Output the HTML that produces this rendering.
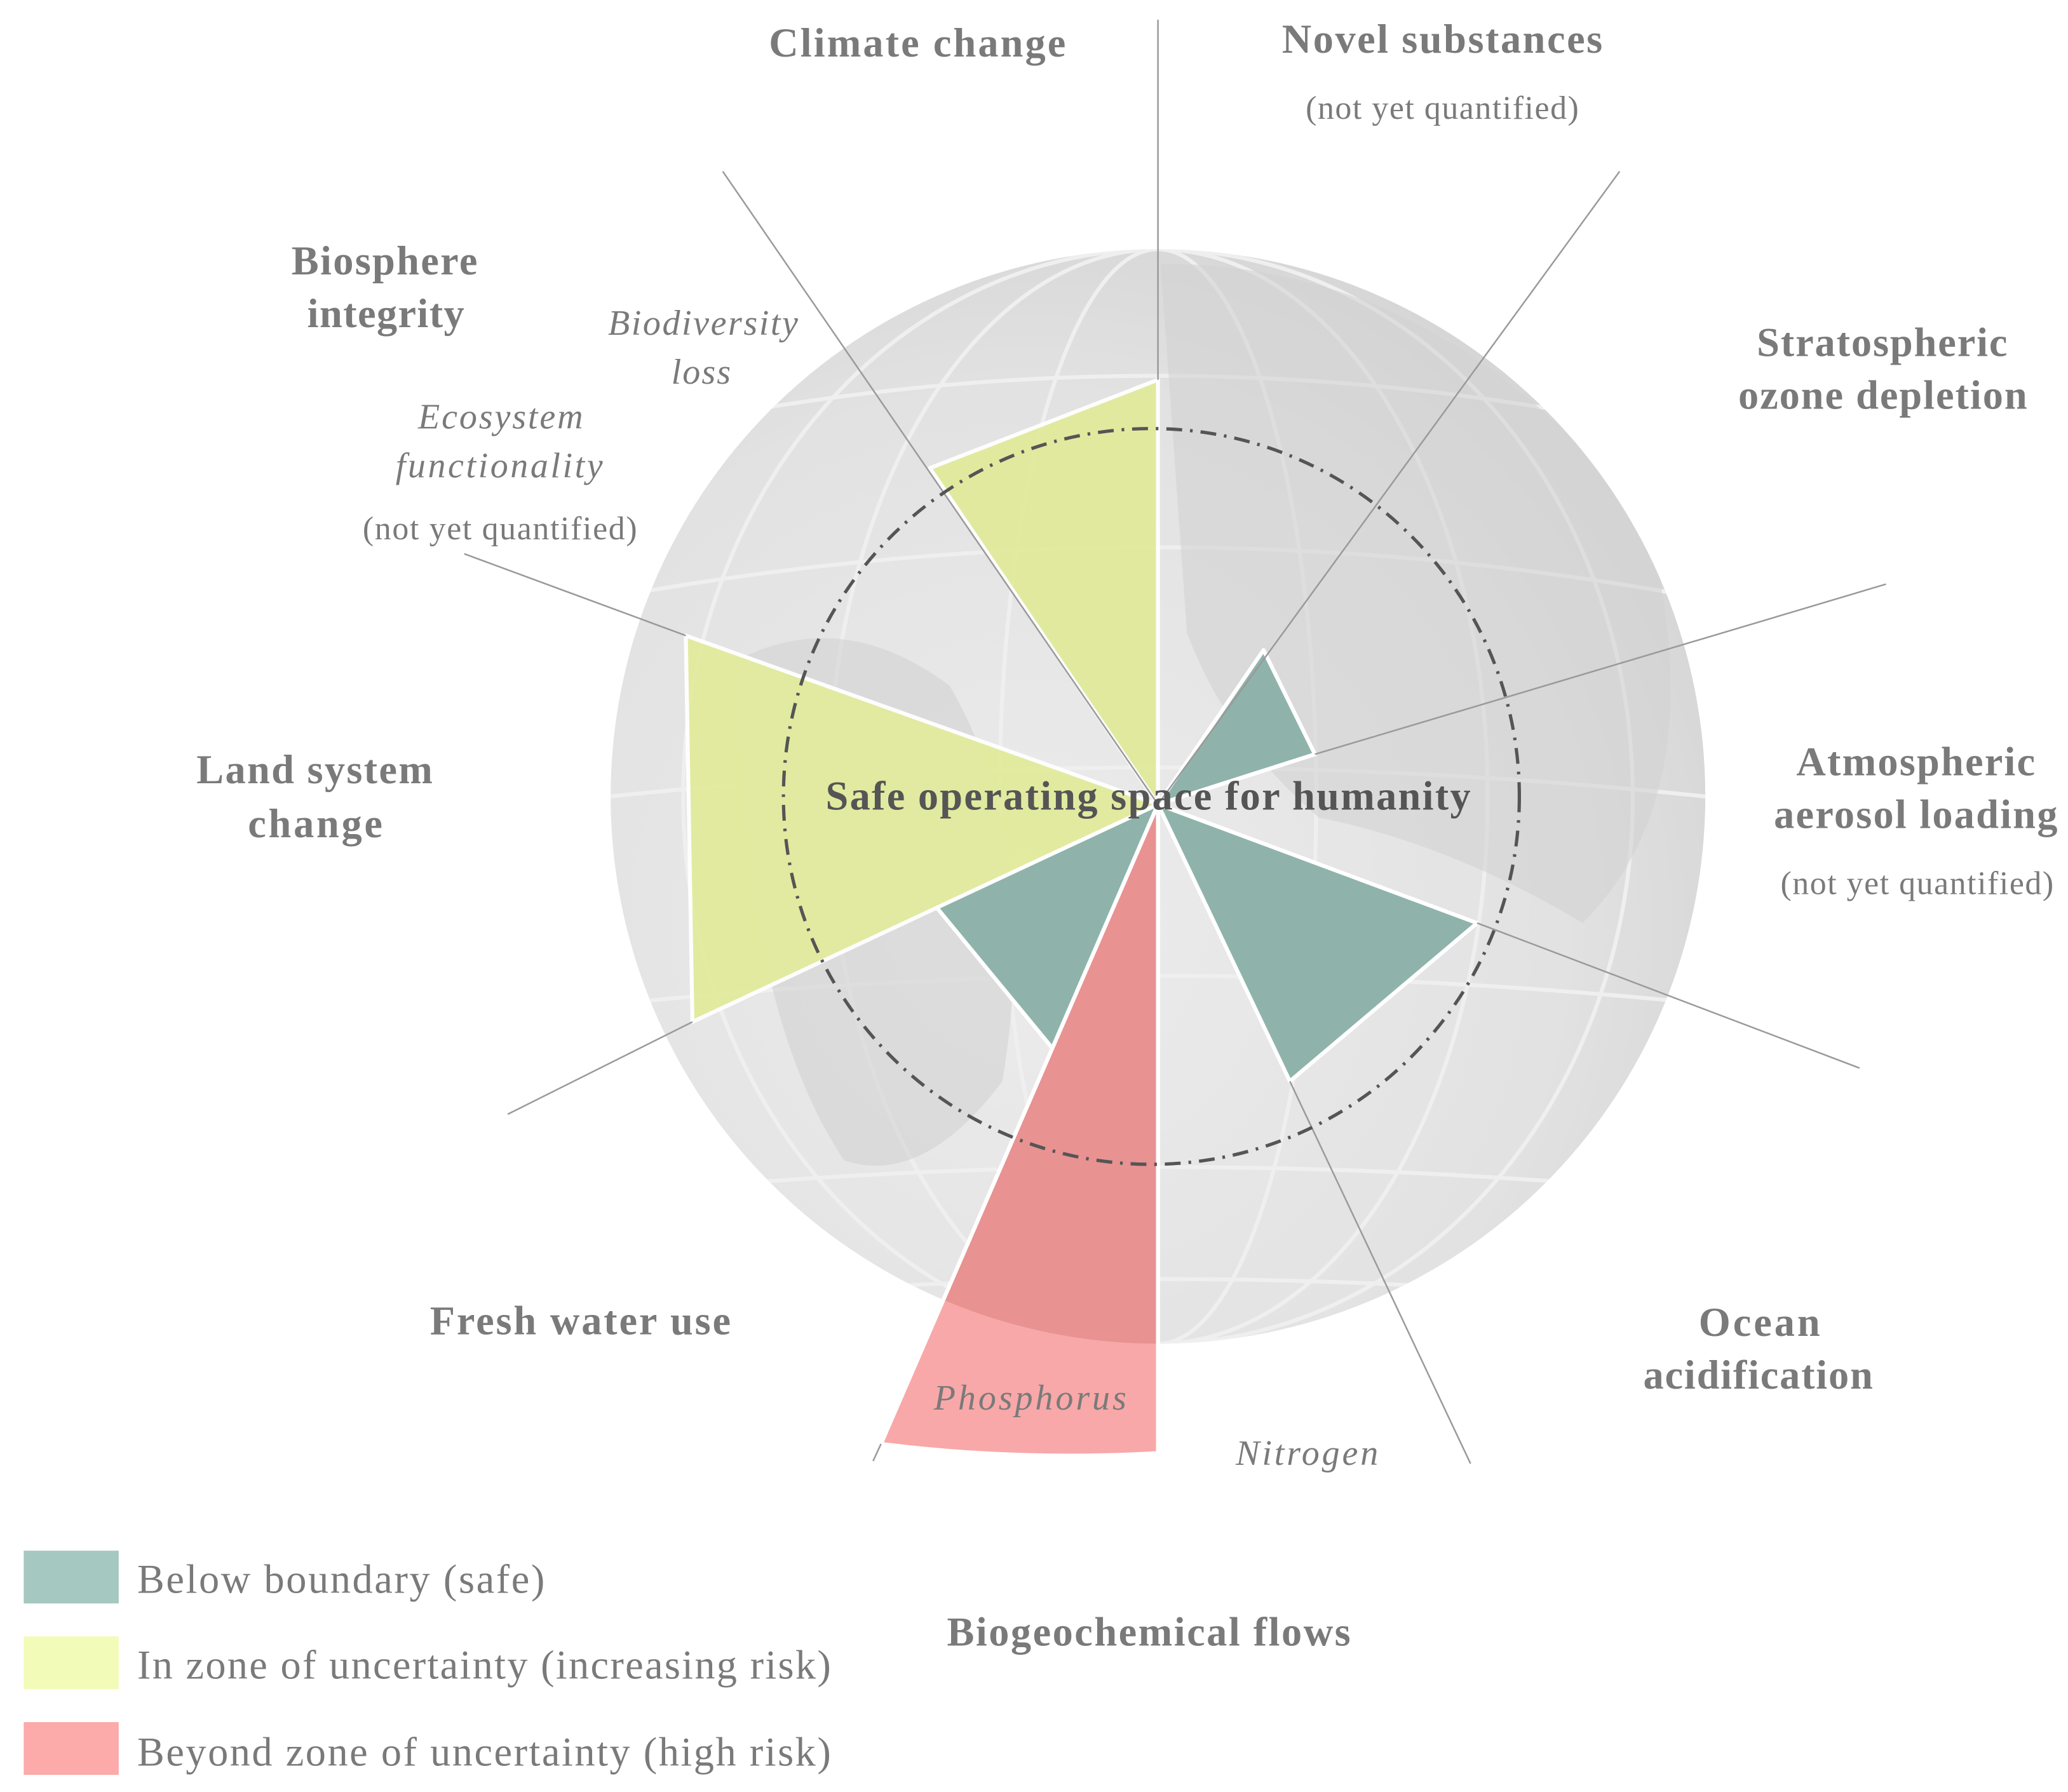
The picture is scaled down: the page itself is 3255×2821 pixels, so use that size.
<!DOCTYPE html>
<html><head><meta charset="utf-8"><style>
html,body{margin:0;padding:0;background:#fff;}
svg{display:block;}
text{font-family:"Liberation Serif",serif;fill:#7a7a7a;}
.b{font-weight:bold;font-size:31px;}
.n{font-size:25px;}
.i{font-style:italic;font-size:27px;}
.lg{font-size:31px;}
</style></head><body>
<svg width="3255" height="2821" viewBox="0 0 1568 1359" preserveAspectRatio="none" xmlns="http://www.w3.org/2000/svg">
<defs>
<radialGradient id="g" cx="0.38" cy="0.62" r="0.7">
<stop offset="0" stop-color="#ececec"/><stop offset="0.7" stop-color="#e2e2e2"/><stop offset="1" stop-color="#d4d4d4"/>
</radialGradient>
<clipPath id="gc"><circle cx="878" cy="604" r="415"/></clipPath>
</defs>
<rect width="1568" height="1359" fill="#fff"/>
<circle cx="878" cy="604" r="415" fill="url(#g)"/>
<g clip-path="url(#gc)" fill="none" stroke="#efefef" stroke-width="3">
<ellipse cx="878" cy="604" rx="120" ry="415"/>
<ellipse cx="878" cy="604" rx="250" ry="415"/>
<ellipse cx="878" cy="604" rx="360" ry="415"/>
<path d="M463,604 Q878,560 1293,604"/>
<path d="M480,450 Q878,380 1270,450"/>
<path d="M520,320 Q878,250 1230,320"/>
<path d="M480,760 Q878,720 1280,760"/>
<path d="M530,900 Q878,870 1230,900"/>
<path d="M600,980 Q878,960 1160,980"/>
</g>
<g clip-path="url(#gc)" fill="#d2d2d2" opacity="0.6">
<path d="M880,200 Q1100,200 1250,400 Q1300,600 1200,700 Q1100,640 1000,620 Q930,560 900,480 Z"/>
<path d="M560,500 Q640,460 720,520 Q790,640 760,820 Q700,900 640,880 Q560,760 560,500 Z"/>
</g>
<g stroke="#fff" stroke-width="3" stroke-linejoin="round">
<polygon points="878,610 705,355 878,288" fill="#e1ea9c" opacity="0.95"/>
<polygon points="878,610 958,493 997,572" fill="#8fb3aa"/>
<polygon points="878,610 1120,700 978,820" fill="#8fb3aa"/>
<polygon points="878,610 710,688 798,795" fill="#8fb3aa"/>
<polygon points="878,610 520,482 525,775" fill="#e2eb9d" opacity="0.95"/>
<path d="M878,610 L878,1102 Q770,1108 668,1095 Z" fill="#f8a8a8"/>
</g>
<path d="M878,610 L878,1102 Q770,1108 668,1095 Z" fill="#e89292" clip-path="url(#gc)" stroke="#fff" stroke-width="3"/>
<g stroke="#9a9a9a" stroke-width="1.2">
<line x1="878" y1="15" x2="878" y2="288"/>
<line x1="878" y1="610" x2="548" y2="130"/>
<line x1="878" y1="610" x2="1228" y2="130"/>
<line x1="997" y1="572" x2="1430" y2="443"/>
<line x1="1120" y1="700" x2="1410" y2="810"/>
<line x1="978" y1="820" x2="1115" y2="1110"/>
<line x1="525" y1="775" x2="385" y2="845"/>
<line x1="520" y1="482" x2="352" y2="420"/>
<line x1="668" y1="1095" x2="662" y2="1108"/>
</g>
<line x1="878" y1="610" x2="878" y2="1102" stroke="#fff" stroke-width="3"/>
<circle cx="873" cy="604" r="279" fill="none" stroke="#555" stroke-width="2.5" stroke-dasharray="12,6,2,6"/>
<g lengthAdjust="spacingAndGlyphs">
<text class="b" x="583" y="43" textLength="225">Climate change</text>
<text class="b" x="972" y="40" textLength="243">Novel substances</text>
<text class="n" x="990" y="90" textLength="207">(not yet quantified)</text>
<text class="b" x="1332" y="270" textLength="190">Stratospheric</text>
<text class="b" x="1318" y="310" textLength="219">ozone depletion</text>
<text class="b" x="1362" y="588" textLength="181">Atmospheric</text>
<text class="b" x="1345" y="628" textLength="215">aerosol loading</text>
<text class="n" x="1350" y="678" textLength="207">(not yet quantified)</text>
<text class="b" x="1288" y="1013" textLength="92">Ocean</text>
<text class="b" x="1246" y="1053" textLength="174">acidification</text>
<text class="i" x="937" y="1111" textLength="108">Nitrogen</text>
<text class="b" x="718" y="1248" textLength="306">Biogeochemical flows</text>
<text class="i" x="708" y="1069" textLength="146">Phosphorus</text>
<text class="b" x="326" y="1012" textLength="228">Fresh water use</text>
<text class="b" x="149" y="594" textLength="179">Land system</text>
<text class="b" x="188" y="635" textLength="102">change</text>
<text class="b" x="221" y="208" textLength="141">Biosphere</text>
<text class="b" x="233" y="248" textLength="119">integrity</text>
<text class="i" x="461" y="254" textLength="144">Biodiversity</text>
<text class="i" x="509" y="291" textLength="45">loss</text>
<text class="i" x="317" y="325" textLength="125">Ecosystem</text>
<text class="i" x="300" y="362" textLength="157">functionality</text>
<text class="n" x="275" y="409" textLength="208">(not yet quantified)</text>
<text class="b" x="626" y="614" textLength="489" style="fill:#555">Safe operating space for humanity</text>
<text class="lg" x="104" y="1208" textLength="309">Below boundary (safe)</text>
<text class="lg" x="104" y="1273" textLength="526">In zone of uncertainty (increasing risk)</text>
<text class="lg" x="104" y="1339" textLength="526">Beyond zone of uncertainty (high risk)</text>
</g>
<rect x="18" y="1176" width="72" height="40" fill="#a5c8c0"/>
<rect x="18" y="1241" width="72" height="40" fill="#f3fbb8"/>
<rect x="18" y="1306" width="72" height="40" fill="#fcaaaa"/>
</svg>
</body></html>
